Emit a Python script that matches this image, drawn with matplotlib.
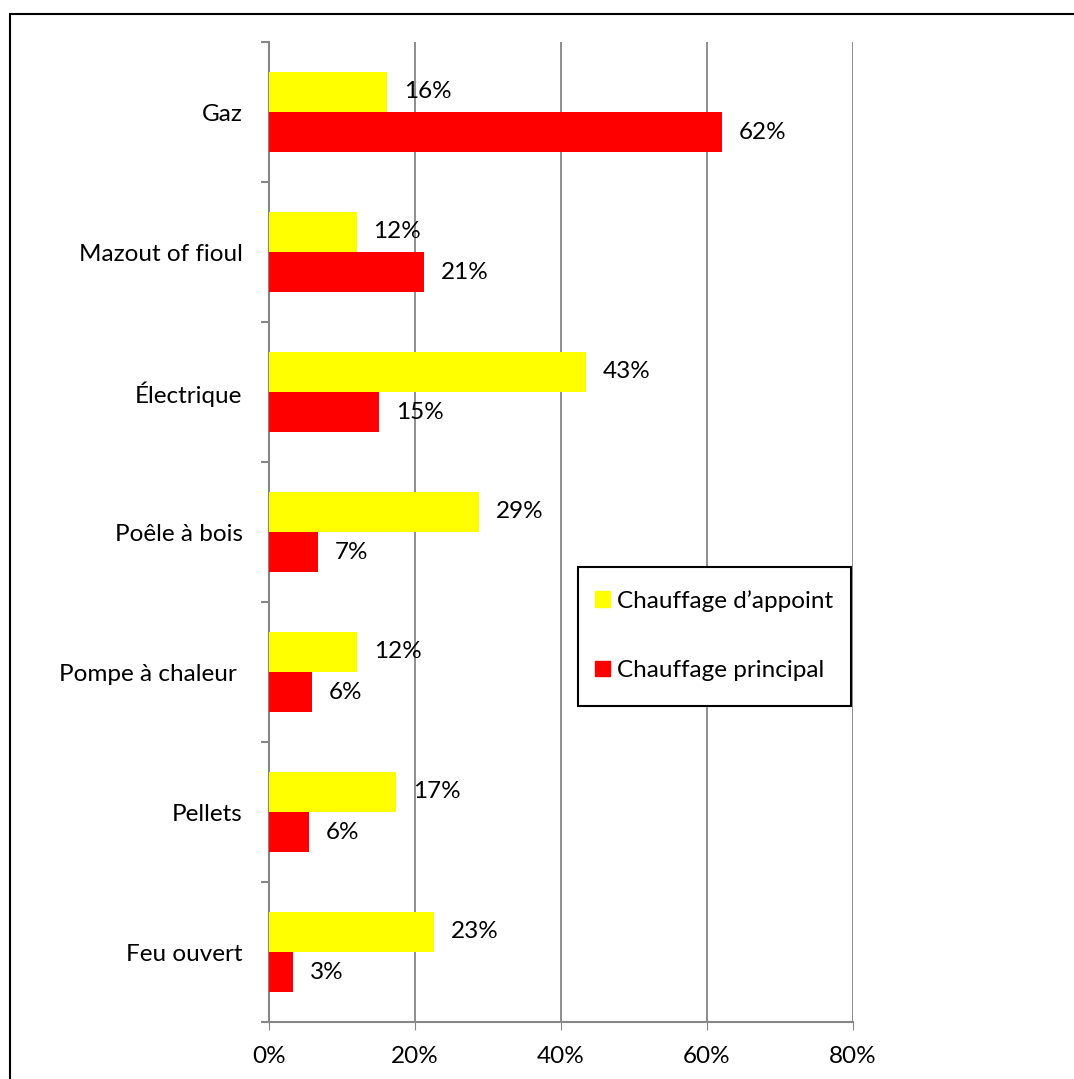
import matplotlib
matplotlib.use("Agg")
import matplotlib.pyplot as plt
from matplotlib.patches import Rectangle, Patch
import numpy as np

plt.rcParams["font.family"] = ["Lato", "DejaVu Sans"]

categories = ["Gaz", "Mazout of fioul", "Électrique", "Poêle à bois",
              "Pompe à chaleur ", "Pellets", "Feu ouvert"]
appoint = [16.2, 12.0, 43.4, 28.8, 12.1, 17.4, 22.6]
principal = [62.0, 21.3, 15.1, 6.7, 5.9, 5.5, 3.3]
xticks = [0, 20, 40, 60, 80]

W, H = 1074, 1079
FS = 17.5
fig = plt.figure(figsize=(W / 100, H / 100), dpi=100)
fig.patch.set_facecolor("white")

# outer chart frame (right and bottom edges fall outside the picture)
fig.patches.append(Rectangle((10 / W, -0.2), 1.2, 1.2 - 14 / H, transform=fig.transFigure,
                             fill=False, edgecolor="black", linewidth=1.5))

AX_L, AX_T, AX_W, AX_H = 269, 42, 584, 980
ax = fig.add_axes([AX_L / W, 1 - (AX_T + AX_H) / H, AX_W / W, AX_H / H])


def px_to_axes(px, py):
    return (px - AX_L) / AX_W, (AX_T + AX_H - py) / AX_H


y = np.arange(len(categories))
h = 0.286
ax.barh(y - h / 2, appoint, height=h, color="#FFFF00", zorder=3)
ax.barh(y + h / 2, principal, height=h, color="#FF0000", zorder=3)

for yi, v in zip(y, appoint):
    ax.text(v + 2.3, yi - h / 2, f"{round(v)}%", va="center", ha="left", fontsize=FS)
for yi, v in zip(y, principal):
    ax.text(v + 2.3, yi + h / 2, f"{round(v)}%", va="center", ha="left", fontsize=FS)

ax.set_xlim(0, 80)
ax.set_ylim(len(categories) - 0.5, -0.5)
ax.set_xticks(xticks)
ax.set_xticklabels([f"{t}%" for t in xticks], fontsize=FS)
ax.set_yticks(y)
ax.set_yticklabels(categories, fontsize=FS)
ax.tick_params(axis="y", length=0, pad=19)
ax.tick_params(axis="x", length=6, color="#868686", pad=11)

# category boundary ticks on the value axis
ax.set_yticks(np.arange(-0.5, len(categories)), minor=True)
ax.tick_params(axis="y", which="minor", length=6, color="#868686", width=1.5)

ax.grid(axis="x", color="#868686", linewidth=1.3, zorder=0)
for s in ["top", "right"]:
    ax.spines[s].set_visible(False)
for s in ["left", "bottom"]:
    ax.spines[s].set_color("#868686")
    ax.spines[s].set_linewidth(1.5)

# legend box drawn separately so its padding matches the original
bx0, by0 = px_to_axes(578, 706)
bx1, by1 = px_to_axes(851, 567)
ax.add_patch(Rectangle((bx0, by0), bx1 - bx0, by1 - by0, transform=ax.transAxes,
                       facecolor="white", edgecolor="black", linewidth=1.5, zorder=5))

handles = [Patch(color="#FFFF00", label="Chauffage d\u2019appoint"),
           Patch(color="#FF0000", label="Chauffage principal")]
leg = ax.legend(handles=handles, loc="upper left",
                bbox_to_anchor=px_to_axes(595, 590),
                fontsize=FS, frameon=False,
                handlelength=0.62, handleheight=0.62, handletextpad=0.3,
                labelspacing=1.98, borderpad=0, borderaxespad=0)
leg.set_zorder(6)

fig.savefig("out.png", dpi=100, facecolor="white")
